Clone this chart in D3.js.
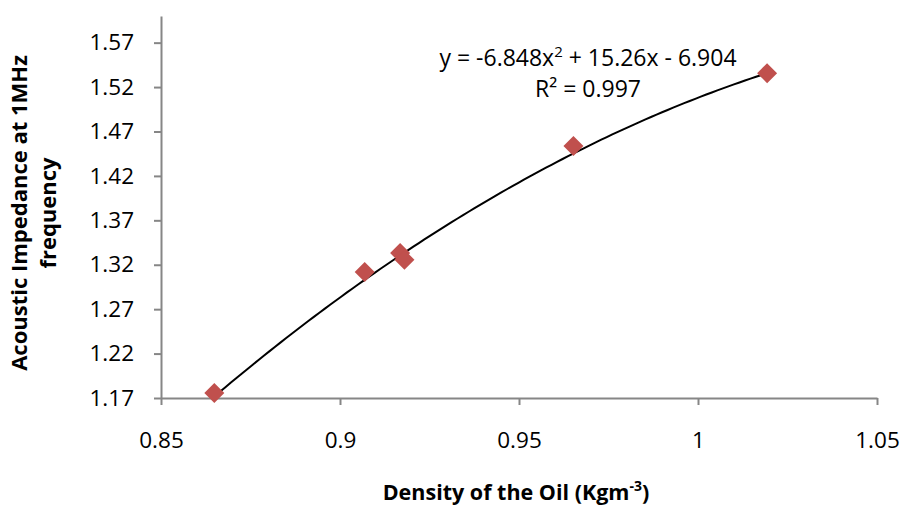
<!DOCTYPE html>
<html>
<head>
<meta charset="utf-8">
<script src="https://cdn.jsdelivr.net/npm/d3@7"></script>
<style>
  body { margin: 0; background: #fff; }
  svg { font-family: "Open Sans", sans-serif; }
</style>
</head>
<body>
<div id="main"></div>
<script>
// density of the oil vs acoustic impedance
const density = [0.8649, 0.9069, 0.9168, 0.918, 0.9652, 1.0193];
const impedance = [1.1756, 1.3117, 1.3331, 1.3256, 1.4538, 1.5356];
const xTicks = [0.85, 0.9, 0.95, 1, 1.05];
const yTicks = [1.17, 1.22, 1.27, 1.32, 1.37, 1.42, 1.47, 1.52, 1.57];
// trendline y = a x^2 + b x + c
const trendCoef = [-6.848, 15.26, -6.904];

const width = 905, height = 508;
const margin = { top: 16, left: 161, right: 28, bottom: 110 };
const axisColor = "#868686";

const svg = d3.select("#main").append("svg")
  .attr("width", width)
  .attr("height", height);

const x = d3.scaleLinear().domain([0.85, 1.05]).range([margin.left, width - margin.right]);
const y = d3.scaleLinear().domain([1.17, 1.6]).range([height - margin.bottom, margin.top]);

// x axis
const xAxis = svg.append("g")
  .attr("transform", `translate(0,${y(1.17)})`)
  .call(d3.axisBottom(x).tickValues(xTicks).tickSize(7).tickSizeOuter(0)
    .tickFormat(d3.format("")));
xAxis.select(".domain").attr("stroke", axisColor).attr("stroke-width", 2);
xAxis.selectAll(".tick line").attr("stroke", axisColor).attr("stroke-width", 2);
xAxis.selectAll(".tick text")
  .attr("y", 50).attr("dy", 0)
  .attr("font-size", 22.5).attr("fill", "#000")
  .attr("font-family", "Open Sans, sans-serif");

// y axis
const yAxis = svg.append("g")
  .attr("transform", `translate(${x(0.85)},0)`)
  .call(d3.axisLeft(y).tickValues(yTicks).tickSize(7).tickSizeOuter(0)
    .tickPadding(20).tickFormat(d3.format(".2f")));
yAxis.select(".domain").attr("stroke", axisColor).attr("stroke-width", 2);
yAxis.selectAll(".tick line").attr("stroke", axisColor).attr("stroke-width", 2);
yAxis.selectAll(".tick text")
  .attr("font-size", 22.5).attr("fill", "#000")
  .attr("font-family", "Open Sans, sans-serif");

// trendline
const xMin = d3.min(density), xMax = d3.max(density);
const curvePts = d3.range(0, 101).map(i => {
  const t = xMin + (xMax - xMin) * i / 100;
  return [t, trendCoef[0] * t * t + trendCoef[1] * t + trendCoef[2]];
});
svg.append("path")
  .datum(curvePts)
  .attr("fill", "none")
  .attr("stroke", "#000")
  .attr("stroke-width", 2)
  .attr("d", d3.line().x(d => x(d[0])).y(d => y(d[1])));

// points
svg.append("g")
  .selectAll("path")
  .data(density.map((d, i) => [d, impedance[i]]))
  .enter()
  .append("path")
  .attr("transform", d => `translate(${x(d[0])},${y(d[1])})`)
  .attr("d", "M0,-10L10,0L0,10L-10,0Z")
  .attr("fill", "#C0504D");

// equation label
const eq = svg.append("text")
  .attr("x", 588).attr("y", 66)
  .attr("text-anchor", "middle")
  .attr("font-size", 23);
eq.append("tspan").text("y = -6.848x");
eq.append("tspan").attr("dy", -9).attr("font-size", 15).text("2");
eq.append("tspan").attr("dy", 9).text(" + 15.26x - 6.904");

svg.append("text")
  .attr("x", 588).attr("y", 97)
  .attr("text-anchor", "middle")
  .attr("font-size", 23)
  .text("R² = 0.997");

// axis titles
const xt = svg.append("text")
  .attr("x", 516).attr("y", 500)
  .attr("text-anchor", "middle")
  .attr("font-size", 21.5)
  .attr("font-weight", "bold");
xt.append("tspan").text("Density of the Oil (Kgm");
xt.append("tspan").attr("dy", -9).attr("font-size", 14).text("-3");
xt.append("tspan").attr("dy", 9).text(")");

const yt = svg.append("text")
  .attr("transform", "translate(27,213) rotate(-90)")
  .attr("text-anchor", "middle")
  .attr("font-size", 22)
  .attr("font-weight", "bold");
yt.append("tspan").attr("x", 0).attr("y", 0).text("Acoustic Impedance at 1MHz");
yt.append("tspan").attr("x", 0).attr("y", 29).text("frequency");
</script>
</body>
</html>
